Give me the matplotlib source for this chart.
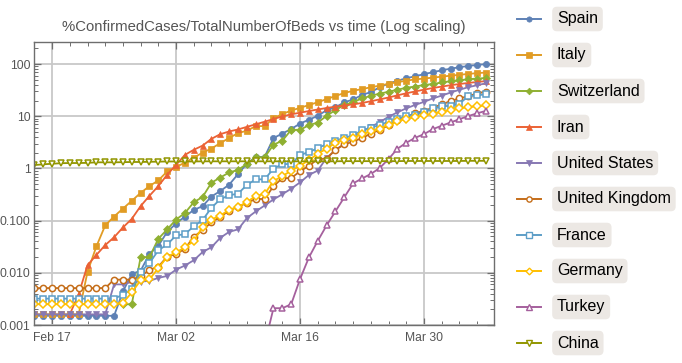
import numpy as np
import pandas as pd
import matplotlib
matplotlib.use("Agg")
import matplotlib.pyplot as plt
import matplotlib.dates as mdates
from matplotlib.lines import Line2D
from matplotlib.ticker import LogLocator, FixedLocator, NullFormatter

plt.rcParams['font.family'] = ['Liberation Sans', 'DejaVu Sans']

nan = np.nan
dates = pd.date_range('2020-02-15', '2020-04-06', freq='D')

# % confirmed cases / total number of beds, one value per day
spain = [0.0015] * 10 + [
    0.0044, 0.0095, 0.011, 0.023, 0.033, 0.061, 0.088, 0.12, 0.16, 0.19,
    0.29, 0.37, 0.49, 0.78, 1.24, 1.66, 1.66, 3.82, 4.67, 5.69,
    7.26, 8.58, 10.2, 13.1, 14.9, 18.5, 21.0, 25.6, 29.1, 36.1,
    42.2, 48.0, 53.5, 58.5, 64.2, 70.0, 76.0, 81.8, 87.0, 92.1,
    96.1, 99.8]
italy = [0.0016] * 6 + [
    0.0104, 0.032, 0.081, 0.12, 0.17, 0.24, 0.34, 0.46, 0.59, 0.88,
    1.06, 1.30, 1.61, 2.01, 2.41, 3.06, 3.84, 4.77, 5.28, 6.48,
    6.48, 9.18, 11.0, 12.9, 14.5, 16.4, 18.6, 21.3, 24.5, 27.9,
    30.8, 33.2, 36.0, 38.7, 41.9, 45.0, 48.1, 50.8, 52.9, 55.0,
    57.5, 59.9, 62.3, 64.8, 67.1, 68.9]
switzerland = [nan] * 10 + [
    0.0025, 0.0025, 0.02, 0.02, 0.045, 0.068, 0.105, 0.14, 0.225, 0.285,
    0.535, 0.67, 0.84, 0.935, 1.23, 1.63, 1.63, 2.85, 3.40, 5.5,
    5.5, 6.75, 7.57, 10.2, 13.2, 16.4, 18.7, 22.0, 24.7, 27.2,
    29.5, 32.3, 35.2, 37.1, 39.8, 41.5, 44.4, 47.1, 49.0, 51.3,
    52.8, 54.1]
iran = [nan] * 4 + [
    0.0016, 0.0039, 0.014, 0.022, 0.034, 0.048, 0.074, 0.108, 0.19, 0.30,
    0.46, 0.76, 1.17, 1.82, 2.28, 2.74, 3.70, 4.54, 5.12, 5.59,
    6.27, 7.02, 7.86, 8.86, 9.93, 10.9, 11.7, 12.6, 13.5, 14.4,
    15.3, 16.1, 16.9, 18.0, 19.4, 21.1, 22.9, 25.2, 27.6, 29.9,
    32.4, 34.8, 37.1, 39.4, 41.5, 43.5, 45.4, 47.2]
united_states = [0.0016] * 9 + [
    0.006, 0.006, 0.0067, 0.0068, 0.007, 0.008, 0.0087, 0.0115, 0.0138, 0.0174,
    0.025, 0.031, 0.047, 0.061, 0.068, 0.112, 0.15, 0.195, 0.255, 0.32,
    0.41, 0.54, 0.75, 0.91, 1.60, 2.23, 2.98, 3.89, 5.13, 6.29,
    7.70, 9.81, 11.9, 14.2, 16.5, 18.9, 22.0, 24.9, 28.5, 32.2,
    36.1, 39.4, 42.9]
united_kingdom = [0.0051] * 9 + [
    0.0074, 0.0074, 0.0074, 0.0086, 0.0114, 0.0131, 0.0205, 0.0228, 0.029, 0.049,
    0.066, 0.093, 0.118, 0.156, 0.184, 0.219, 0.26, 0.26, 0.457, 0.652,
    0.653, 0.884, 1.12, 1.51, 1.55, 2.29, 2.89, 3.27, 3.83, 4.65,
    5.49, 6.73, 8.40, 9.87, 11.3, 12.8, 14.5, 17.0, 19.5, 22.1,
    24.2, 27.6, 29.8]
france = [0.0032] * 10 + [
    0.0038, 0.0049, 0.0103, 0.0154, 0.027, 0.035, 0.052, 0.055, 0.078, 0.103,
    0.177, 0.258, 0.306, 0.329, 0.484, 0.618, 0.618, 0.991, 1.21, 1.22,
    1.80, 2.07, 2.44, 2.94, 3.41, 3.86, 4.32, 5.36, 6.02, 6.81,
    7.87, 8.90, 10.1, 10.8, 12.0, 14.1, 15.4, 16.0, 17.4, 24.3,
    25.1, 26.5]
germany = [0.0025] * 10 + [
    0.00265, 0.0042, 0.0072, 0.0075, 0.0123, 0.0203, 0.0248, 0.0306, 0.0409, 0.0752,
    0.105, 0.125, 0.162, 0.183, 0.227, 0.298, 0.324, 0.573, 0.715, 0.904,
    1.13, 1.44, 1.92, 2.39, 3.10, 3.47, 3.88, 4.53, 5.15, 5.82,
    6.85, 7.94, 9.00, 9.69, 10.4, 11.2, 12.1, 13.2, 14.2, 15.0,
    15.6, 16.1]
turkey = [nan] * 25 + [
    0.00042, 0.00042, 0.0021, 0.0021, 0.0025, 0.0076, 0.0197, 0.041, 0.081, 0.151,
    0.281, 0.519, 0.642, 0.786, 1.02, 1.52, 2.39, 3.11, 3.87, 4.55,
    5.68, 6.59, 7.62, 8.79, 10.1, 11.4, 12.7]
china = [
    1.16, 1.20, 1.23, 1.26, 1.27, 1.27, 1.28, 1.31, 1.31, 1.31,
    1.32, 1.33, 1.33, 1.34, 1.35, 1.36, 1.36, 1.36, 1.36, 1.37,
    1.37, 1.37, 1.37, 1.37, 1.37, 1.37, 1.37, 1.37, 1.37, 1.37,
    1.37, 1.37, 1.37, 1.37, 1.37, 1.38, 1.38, 1.38, 1.38, 1.38,
    1.38, 1.38, 1.39, 1.39, 1.39, 1.39, 1.39, 1.39, 1.39, 1.40,
    1.40, 1.40]

countries = ['Spain', 'Italy', 'Switzerland', 'Iran', 'United States',
             'United Kingdom', 'France', 'Germany', 'Turkey', 'China']
series = [spain, italy, switzerland, iran, united_states,
          united_kingdom, france, germany, turkey, china]
colors = ['#5E81B5', '#E19C24', '#8FB032', '#EB6235', '#8778B3',
          '#C56E1A', '#5D9EC7', '#FFBF00', '#A5609D', '#929600']
markers = ['o', 's', 'D', '^', 'v', 'o', 's', 'D', '^', 'v']
hollow = [False] * 5 + [True] * 5

fig = plt.figure(figsize=(6.82, 3.63), dpi=100)
ax = fig.add_axes([34 / 682, 38 / 363, 460 / 682, 283 / 363])

for name, vals, c, m, h in zip(countries, series, colors, markers, hollow):
    ms = 4.5 if m != 'D' else 4.0
    ax.plot(dates, vals, color=c, lw=1.3, marker=m, ms=ms,
            mfc='white' if h else c, mec=c, mew=1.1 if h else 0.5)

ax.set_yscale('log')
ax.set_ylim(0.001, 265)
ax.set_xlim(dates[0] - pd.Timedelta(hours=1), dates[0] + pd.Timedelta(days=51.9))

ax.yaxis.set_major_locator(FixedLocator([0.001, 0.01, 0.1, 1, 10, 100]))
ax.set_yticklabels(['0.001', '0.010', '0.100', '1', '10', '100'])
ax.yaxis.set_minor_locator(LogLocator(base=10, subs=np.arange(2, 10)))
ax.yaxis.set_minor_formatter(NullFormatter())

major_days = pd.to_datetime(['2020-02-17', '2020-03-02', '2020-03-16', '2020-03-30'])
ax.xaxis.set_major_locator(FixedLocator(mdates.date2num(major_days)))
ax.xaxis.set_major_formatter(mdates.DateFormatter('%b %d'))
ax.xaxis.set_minor_locator(mdates.DayLocator(interval=2, bymonthday=range(1, 32)))

ax.grid(True, which='major', color='#C8C8C8', lw=1.3)
ax.set_axisbelow(True)

for s in ax.spines.values():
    s.set_color('#6E6E6E')
    s.set_linewidth(1.0)
ax.tick_params(which='both', direction='in', top=True, right=True,
               color='#6E6E6E', labelcolor='#555555', labelsize=8.7)
ax.tick_params(which='major', length=5, width=0.9)
ax.tick_params(axis='y', which='major', pad=2.5)
ax.tick_params(axis='x', which='major', pad=5)
ax.tick_params(which='minor', length=3, width=0.7)

ax.set_title('%ConfirmedCases/TotalNumberOfBeds vs time (Log scaling)',
             fontsize=10.7, color='#555555', pad=8)

# legend drawn by hand on the right, Mathematica style
for i, (name, c, m, h) in enumerate(zip(countries, colors, markers, hollow)):
    yc = 1 - (19 + 36 * i) / 363
    fig.add_artist(Line2D([517 / 682, 541 / 682], [yc, yc], color=c, lw=1.4,
                          transform=fig.transFigure))
    fig.add_artist(Line2D([529 / 682], [yc], color=c, marker=m,
                          ms=3.8 if m != 'D' else 3.4,
                          mfc='white' if h else c, mec=c, mew=1.0 if h else 0.5,
                          transform=fig.transFigure))
    fig.text(557 / 682, yc, name, fontsize=11.5, color='black', va='center', ha='left',
             bbox=dict(boxstyle='round,pad=0.3,rounding_size=0.3',
                       fc='#ECE8E4', ec='none'))

fig.savefig('out.png', dpi=100)
